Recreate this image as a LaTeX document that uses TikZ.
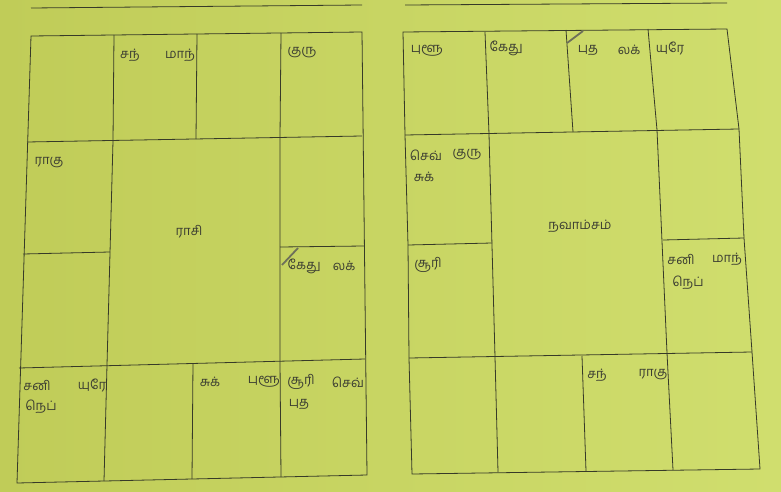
\documentclass[tikz,border=0pt]{standalone}
\usepackage{fontspec}
\newfontfamily\tamil[Script=Tamil]{Hind Madurai}
\definecolor{bgl}{RGB}{192,204,88}
\definecolor{bgr}{RGB}{208,222,110}
\definecolor{linec}{RGB}{55,58,40}
\definecolor{textc}{RGB}{60,62,50}
\definecolor{markc}{RGB}{110,112,90}
\begin{document}
\begin{tikzpicture}[x=1pt,y=-1pt,
  grid/.style={draw=linec,line width=0.8pt},
  lbl/.style={font=\tamil\fontsize{13}{15}\selectfont,text=textc,inner sep=0pt},
  tick/.style={draw=markc,line width=1.8pt}]
\shade[left color=bgl,right color=bgr] (0,0) rectangle (781,492);
\useasboundingbox (0,0) rectangle (781,492);
% ---------------- left chart (Rasi)
\coordinate (LA) at (31,36); \coordinate (LB) at (362,32);
\coordinate (LC) at (367,475); \coordinate (LD) at (17,483);
\draw[grid] (31,8) -- (362,5);
\draw[grid] (LA) -- (LB) -- (LC) -- (LD) -- cycle;
\draw[grid] (27,142) -- (362,136);
\draw[grid] (114,35) -- (113,141);
\draw[grid] (197,34) -- (196,139);
\draw[grid] (281,33) -- (280,137);
\draw[grid] (113,141) -- (107,365) -- (104,481);
\draw[grid] (280,137) -- (280,362) -- (281,477);
\draw[grid] (23,254) -- (110,252);
\draw[grid] (280,247) -- (364,246);
\draw[grid] (19,368) -- (365,359);
\draw[grid] (193,363) -- (192,479);
\draw[tick] (282,265) -- (298,248);
\node[lbl] (l1) at (130,55) {சந்};
\node[lbl] (l2) at (180,55) {மாந்};
\node[lbl] (l3) at (302,53) {குரு};
\node[lbl] (l4) at (49,163) {ராகு};
\node[lbl] (l5) at (189,232) {ராசி};
\node[lbl] (l6) at (304,266) {கேது};
\node[lbl] (l7) at (344,266) {லக்};
\node[lbl] (l8) at (37,385) {சனி};
\node[lbl] (l9) at (92,385) {யுரே};
\node[lbl] (l10) at (41,407) {நெப்};
\node[lbl] (l11) at (210,382) {சுக்};
\node[lbl] (l12) at (264,382) {புளூ};
\node[lbl] (l13) at (301,382) {சூரி};
\node[lbl] (l14) at (348,382) {செவ்};
\node[lbl] (l15) at (299,404) {புத};
% ---------------- right chart (Navamsam)
\coordinate (RA) at (403,32); \coordinate (RB) at (727,29);
\coordinate (RC) at (760,469); \coordinate (RD) at (412,474);
\draw[grid] (405,5) -- (727,3);
\draw[grid] (RA) -- (RB) -- (739,129) -- (744,238) -- (752,352) -- (RC) -- (RD) -- (409,358) -- (408,245) -- (405,135) -- cycle;
\draw[grid] (405,135) -- (739,129);
\draw[grid] (485,32) -- (489,134);
\draw[grid] (566,30) -- (573,132);
\draw[grid] (648,29) -- (657,130);
\draw[grid] (489,134) -- (495,357) -- (498,472);
\draw[grid] (657,130) -- (667,353) -- (673,470);
\draw[grid] (408,245) -- (492,243);
\draw[grid] (663,240) -- (744,238);
\draw[grid] (409,358) -- (752,352);
\draw[grid] (582,356) -- (586,471);
\draw[tick] (567,43) -- (583,31);
\node[lbl] (r1) at (427,51) {புளூ};
\node[lbl] (r2) at (506,48) {கேது};
\node[lbl] (r3) at (588,50) {புத};
\node[lbl] (r4) at (629,50) {லக்};
\node[lbl] (r5) at (670,48) {யுரே};
\node[lbl] (r6) at (426,155) {செவ்};
\node[lbl] (r7) at (467,155) {குரு};
\node[lbl] (r8) at (424,177) {சுக்};
\node[lbl] (r9) at (580,226) {நவாம்சம்};
\node[lbl] (r10) at (428,265) {சூரி};
\node[lbl] (r11) at (681,259) {சனி};
\node[lbl] (r12) at (727,259) {மாந்};
\node[lbl] (r13) at (688,283) {நெப்};
\node[lbl] (r14) at (597,375) {சந்};
\node[lbl] (r15) at (653,375) {ராகு};
\end{tikzpicture}
\end{document}
